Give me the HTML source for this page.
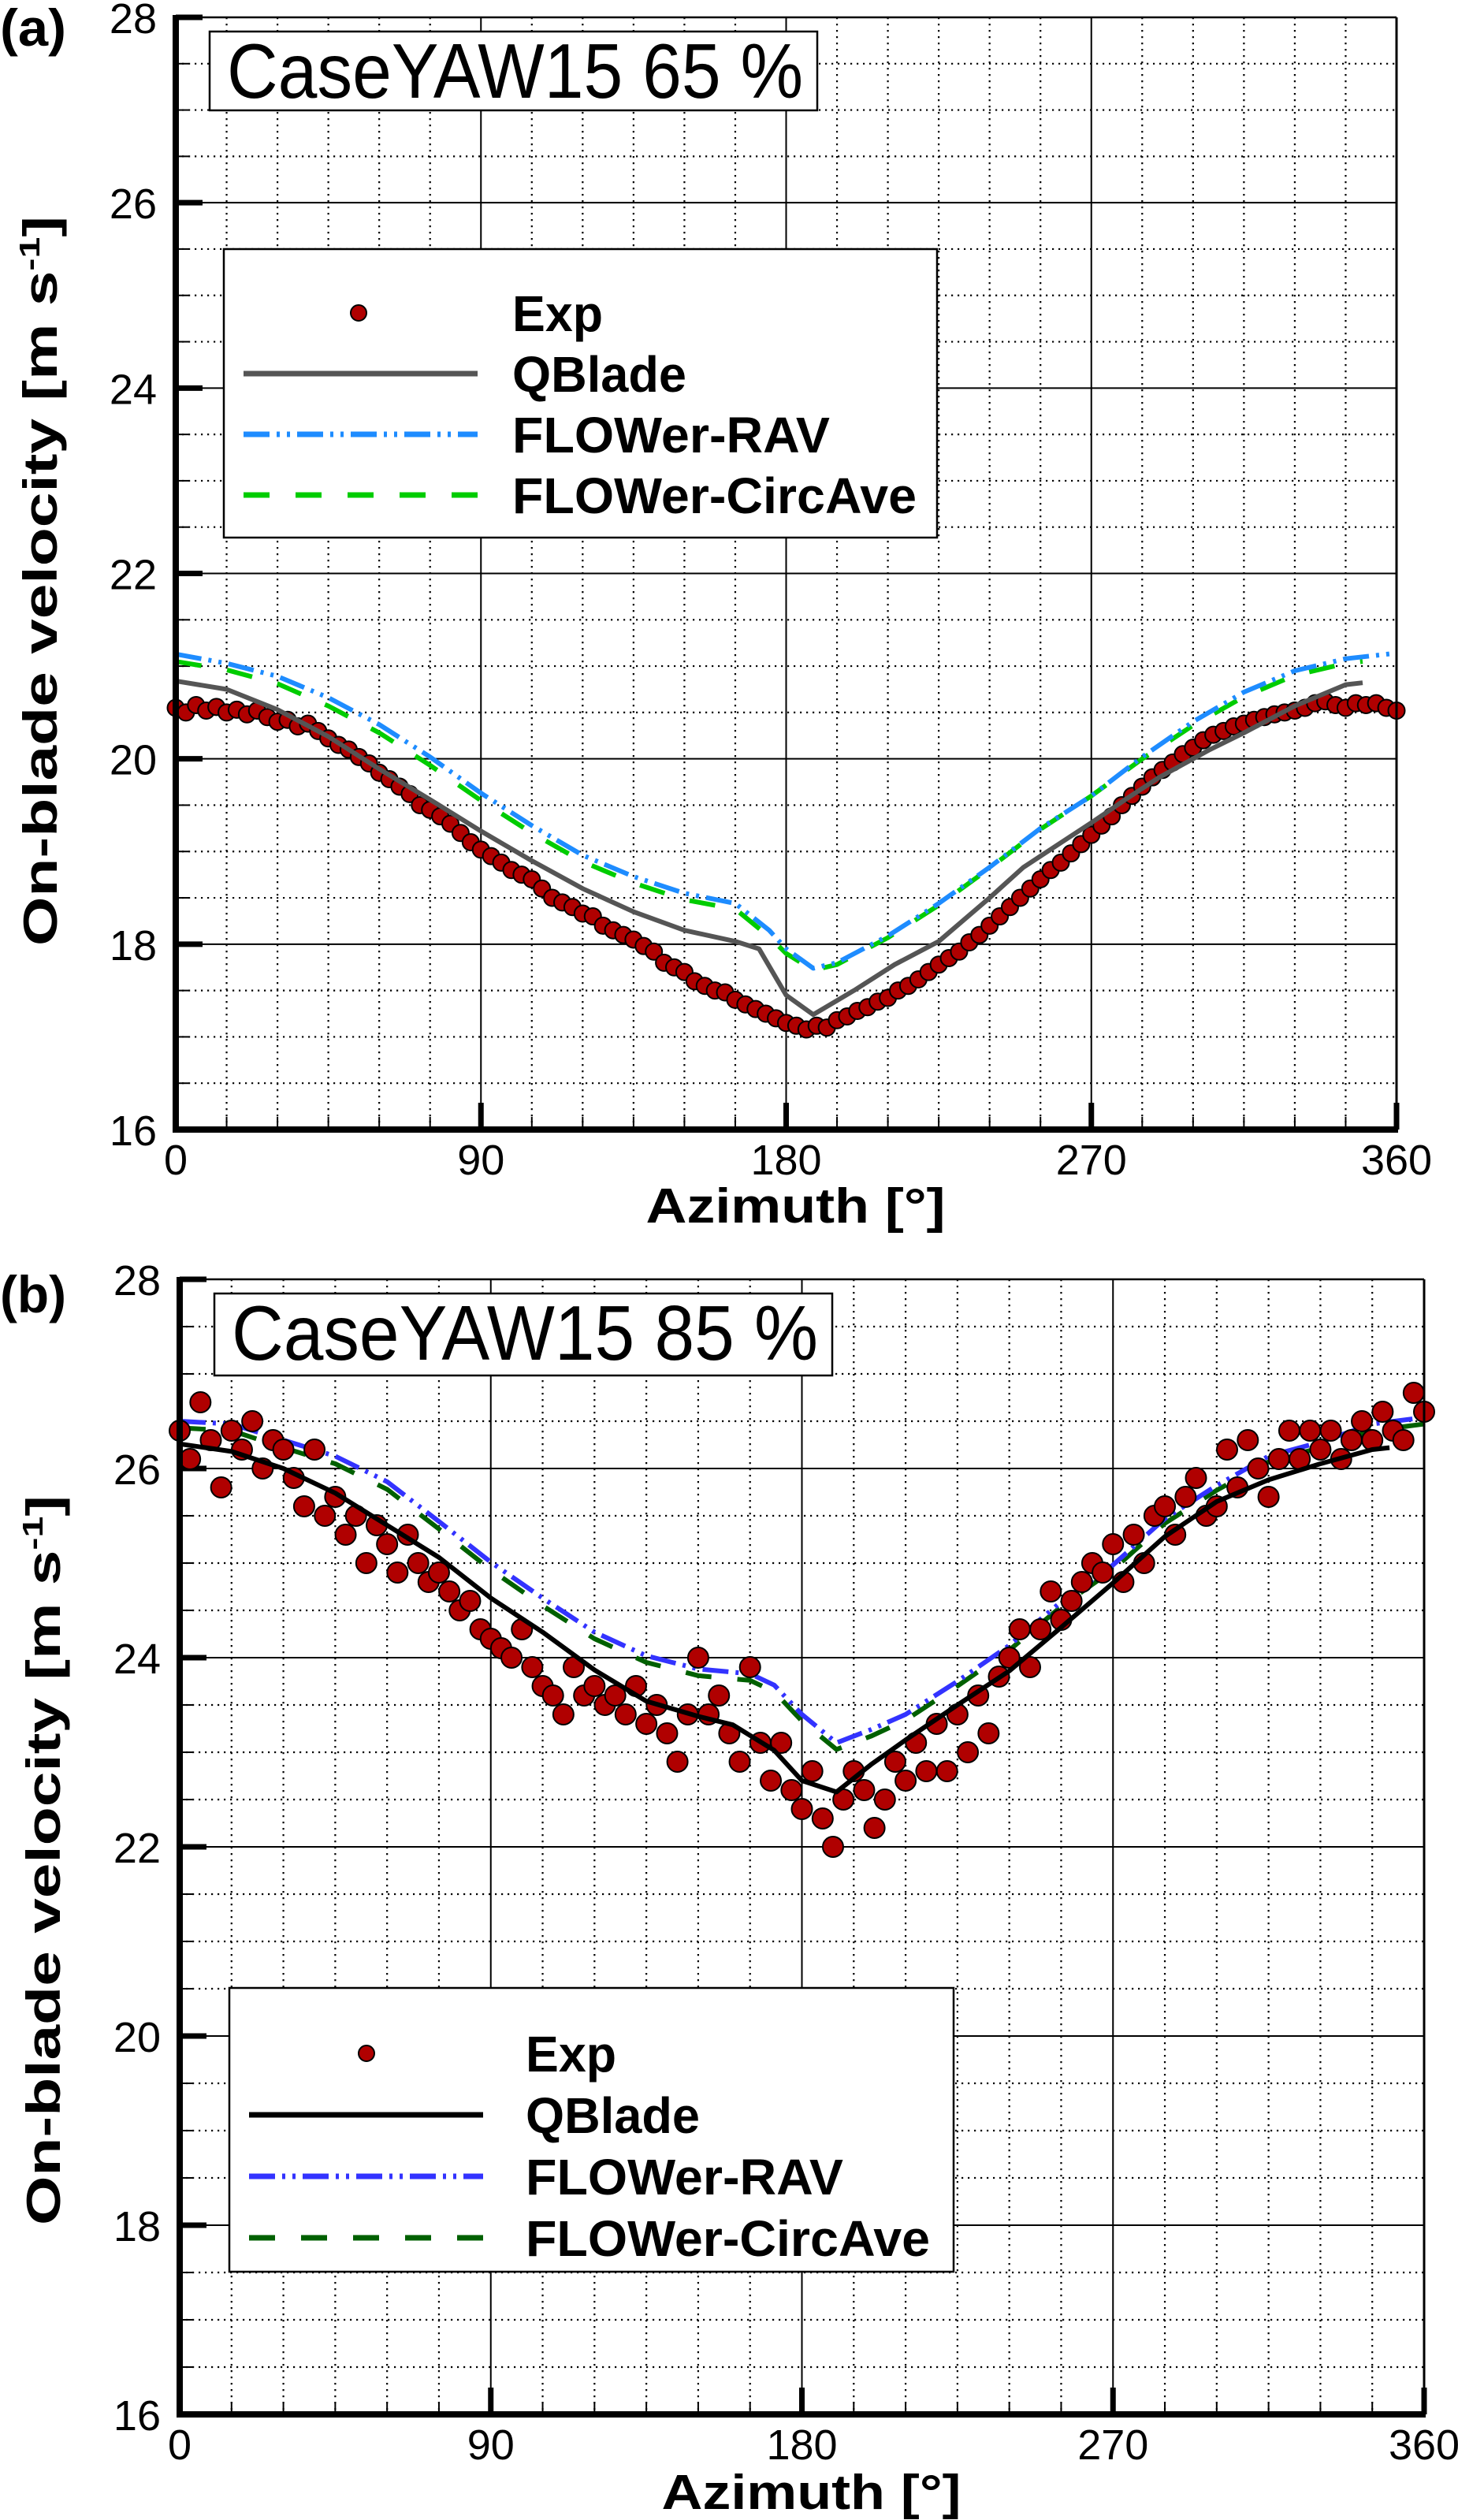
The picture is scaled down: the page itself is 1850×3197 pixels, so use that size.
<!DOCTYPE html>
<html><head><meta charset="utf-8"><style>
html,body{margin:0;padding:0;background:#fff}
svg{display:block}
text{font-family:"Liberation Sans",Arial,sans-serif}
</style></head><body>
<svg id="fig" width="1850" height="3197" viewBox="0 0 1850 3197" xmlns="http://www.w3.org/2000/svg"></svg>
<script>
// ---------- DATA ----------
const xTicks = [0, 90, 180, 270, 360];
const yTicks = [16, 18, 20, 22, 24, 26, 28];

// Panel (a) 65 %
const aExpAz = [];
for (let i = 0; i <= 120; i++) aExpAz.push(i * 3);
const aExpVal = [20.55,20.5,20.58,20.52,20.56,20.5,20.53,20.48,20.52,20.45,20.4,20.42,20.35,20.38,20.3,20.22,20.15,20.1,20.02,19.95,19.85,19.78,19.7,19.62,19.5,19.45,19.38,19.3,19.2,19.1,19.02,18.95,18.88,18.8,18.75,18.7,18.6,18.5,18.45,18.4,18.33,18.3,18.2,18.15,18.1,18.05,17.98,17.92,17.8,17.75,17.7,17.6,17.55,17.5,17.48,17.4,17.35,17.3,17.25,17.2,17.15,17.12,17.08,17.12,17.1,17.18,17.22,17.28,17.32,17.38,17.42,17.5,17.55,17.62,17.7,17.78,17.85,17.92,18.02,18.1,18.2,18.3,18.4,18.5,18.6,18.7,18.8,18.88,18.98,19.08,19.18,19.28,19.38,19.5,19.6,19.7,19.8,19.88,19.96,20.05,20.12,20.2,20.26,20.3,20.35,20.38,20.42,20.45,20.48,20.5,20.52,20.55,20.6,20.62,20.58,20.55,20.6,20.58,20.6,20.55,20.52];
const aQbAz  = [0,15,30,45,60,75,90,105,120,135,150,165,172,180,188,200,212,225,240,250,260,270,280,290,305,315,330,345,350];
const aQbVal = [20.84,20.75,20.53,20.24,19.89,19.56,19.22,18.9,18.6,18.35,18.15,18.03,17.95,17.45,17.24,17.5,17.78,18.03,18.5,18.83,19.07,19.31,19.56,19.8,20.1,20.28,20.57,20.8,20.82];
const aRavAz  = [0,15,30,45,60,75,90,105,120,135,150,165,175,180,188,195,210,225,240,255,270,285,300,315,330,345,360];
const aRavVal = [21.13,21.03,20.89,20.66,20.37,20.02,19.63,19.28,18.96,18.73,18.55,18.44,18.15,17.95,17.74,17.8,18.09,18.44,18.83,19.25,19.6,20.02,20.4,20.72,20.95,21.08,21.14];
const aCircAz  = [0,15,30,45,60,75,90,105,120,135,150,165,175,180,188,195,210,225,240,255,270,285,300,315,330,345,350];
const aCircVal = [21.05,20.96,20.81,20.57,20.28,19.93,19.55,19.2,18.89,18.66,18.48,18.38,18.08,17.9,17.72,17.78,18.07,18.42,18.82,19.24,19.6,20.0,20.36,20.67,20.9,21.03,21.05];

// Panel (b) 85 %
const bExpAz = [];
for (let i = 0; i <= 120; i++) bExpAz.push(i * 3);
const bExpVal = [26.4,26.1,26.7,26.3,25.8,26.4,26.2,26.5,26.0,26.3,26.2,25.9,25.6,26.2,25.5,25.7,25.3,25.5,25.0,25.4,25.2,24.9,25.3,25.0,24.8,24.9,24.7,24.5,24.6,24.3,24.2,24.1,24.0,24.3,23.9,23.7,23.6,23.4,23.9,23.6,23.7,23.5,23.6,23.4,23.7,23.3,23.5,23.2,22.9,23.4,24.0,23.4,23.6,23.2,22.9,23.9,23.1,22.7,23.1,22.6,22.4,22.8,22.3,22.0,22.5,22.8,22.6,22.2,22.5,22.9,22.7,23.1,22.8,23.3,22.8,23.4,23.0,23.6,23.2,23.8,24.0,24.3,23.9,24.3,24.7,24.4,24.6,24.8,25.0,24.9,25.2,24.8,25.3,25.0,25.5,25.6,25.3,25.7,25.9,25.5,25.6,26.2,25.8,26.3,26.0,25.7,26.1,26.4,26.1,26.4,26.2,26.4,26.1,26.3,26.5,26.3,26.6,26.4,26.3,26.8,26.6];
const bQbAz  = [0,15,30,45,60,75,90,105,120,135,150,160,172,180,190,200,210,225,240,255,270,285,300,315,330,345,350];
const bQbVal = [26.26,26.18,26.0,25.74,25.4,25.06,24.63,24.27,23.87,23.54,23.38,23.29,23.02,22.7,22.58,22.87,23.13,23.5,23.86,24.32,24.79,25.28,25.65,25.88,26.05,26.2,26.22];
const bRavAz  = [0,15,30,45,60,75,90,105,120,135,150,165,172,180,190,200,210,225,240,255,270,285,300,315,330,345,360];
const bRavVal = [26.5,26.47,26.3,26.13,25.86,25.44,25.01,24.63,24.27,24.02,23.88,23.83,23.71,23.4,23.1,23.24,23.4,23.75,24.13,24.59,24.98,25.47,25.82,26.13,26.28,26.47,26.54];
const bCircAz  = [0,15,30,45,60,75,90,105,120,135,150,165,172,180,190,200,210,225,240,255,270,285,300,315,330,345,360];
const bCircVal = [26.43,26.4,26.22,26.05,25.78,25.36,24.93,24.55,24.2,23.95,23.81,23.76,23.64,23.33,23.03,23.17,23.34,23.7,24.08,24.54,24.93,25.42,25.77,26.07,26.22,26.4,26.47];

// ---------- DRAW ----------
const NS = "http://www.w3.org/2000/svg";
const svg = document.getElementById('fig');
function mk(tag, attrs, parent) {
  const e = document.createElementNS(NS, tag);
  for (const k in attrs) e.setAttribute(k, attrs[k]);
  (parent || svg).appendChild(e);
  return e;
}

function panel(cfg) {
  const g = mk('g', {});
  
  
  const L = cfg.L, R = cfg.R, T = cfg.T, B = cfg.B;
  const xs = v => L + (v - 0) / 360 * (R - L);
  const ys = v => B - (v - 16) / 12 * (B - T);

  const grid = mk('g', {}, g);
  
  
  for (let a = 15; a < 360; a += 15) {
    if (a % 90 === 0) continue;
    mk('line', {x1: xs(a), x2: xs(a), y1: T, y2: B, stroke: '#000', 'stroke-width': 2.2, 'stroke-dasharray': '2.2,5.8'}, grid);
    mk('line', {x1: xs(a), x2: xs(a), y1: B - 16, y2: B, stroke: '#000', 'stroke-width': 2}, grid);
  }
  for (let v = 16.5; v < 28; v += 0.5) {
    if (v % 2 === 0) continue;
    mk('line', {x1: L, x2: R, y1: ys(v), y2: ys(v), stroke: '#000', 'stroke-width': 2.2, 'stroke-dasharray': '2.2,5.8'}, grid);
    mk('line', {x1: L, x2: L + 16, y1: ys(v), y2: ys(v), stroke: '#000', 'stroke-width': 2}, grid);
  }
  for (const a of xTicks) {
    mk('line', {x1: xs(a), x2: xs(a), y1: T, y2: B, stroke: '#000', 'stroke-width': 2}, grid);
    mk('line', {x1: xs(a), x2: xs(a), y1: B - 34, y2: B, stroke: '#000', 'stroke-width': 7}, grid);
  }
  for (const v of yTicks) {
    mk('line', {x1: L, x2: R, y1: ys(v), y2: ys(v), stroke: '#000', 'stroke-width': 2}, grid);
    mk('line', {x1: L, x2: L + 34, y1: ys(v), y2: ys(v), stroke: '#000', 'stroke-width': 7}, grid);
  }

  function line(az, val, color, w, dash, name) {
    let d = '';
    for (let i = 0; i < az.length; i++) d += (i ? 'L' : 'M') + xs(az[i]).toFixed(1) + ',' + ys(val[i]).toFixed(1);
    const p = mk('path', {d: d, fill: 'none', stroke: color, 'stroke-width': w, 'stroke-dasharray': dash || 'none', 'stroke-linejoin': 'round'}, g);
    
    
  }
  line(cfg.circAz, cfg.circVal, cfg.cCirc, 6, '33,33', 'flower-circave-line');
  line(cfg.ravAz, cfg.ravVal, cfg.cRav, 6, '33,9,4,9,4,9', 'flower-rav-line');
  const eg = mk('g', {}, g);
  
  
  for (let i = 0; i < cfg.expAz.length; i++) {
    const c = mk('circle', {cx: xs(cfg.expAz[i]), cy: ys(cfg.expVal[i]), r: cfg.r, fill: '#b00000', stroke: '#000', 'stroke-width': 2}, eg);
    
    
  }
  line(cfg.qbAz, cfg.qbVal, cfg.cQb, 6, null, 'qblade-line');

  mk('line', {x1: L, x2: R, y1: T, y2: T, stroke: '#000', 'stroke-width': 2.5}, g);
  mk('line', {x1: R, x2: R, y1: T, y2: B, stroke: '#000', 'stroke-width': 3}, g);
  const ax = mk('line', {x1: L, x2: L, y1: T - 3, y2: B + 4, stroke: '#000', 'stroke-width': 8}, g);
  
  
  const bx = mk('line', {x1: L - 4, x2: R + 2, y1: B, y2: B, stroke: '#000', 'stroke-width': 8}, g);
  
  

  for (const a of xTicks) {
    const t = mk('text', {x: xs(a), y: B + 57, 'font-size': 54, 'text-anchor': 'middle'}, g);
    t.textContent = a;
    
    
  }
  for (const v of yTicks) {
    const t = mk('text', {x: L - 24, y: ys(v) + 20, 'font-size': 54, 'text-anchor': 'end'}, g);
    t.textContent = v;
    
    
  }
  const xt = mk('text', {x: (L + R) / 2 + 12, y: cfg.xTitleY, 'font-size': 62, 'font-weight': 'bold', 'text-anchor': 'middle', textLength: 380, lengthAdjust: 'spacingAndGlyphs'}, g);
  xt.textContent = 'Azimuth [°]';
  
  
  const yt = mk('text', {x: 0, y: 0, 'font-size': 60, 'font-weight': 'bold', 'text-anchor': 'middle', textLength: 926, lengthAdjust: 'spacingAndGlyphs', transform: 'translate(' + cfg.yTitleX + ',' + cfg.yTitleC + ') rotate(-90)'}, g);
  yt.innerHTML = 'On-blade velocity [m s<tspan dy="-22" font-size="36">-1</tspan><tspan dy="22">]</tspan>';
  
  

  const pl = mk('text', {x: 0, y: cfg.labelY, 'font-size': 66, 'font-weight': 'bold', textLength: 84, lengthAdjust: 'spacingAndGlyphs'}, g);
  pl.textContent = cfg.label;
  
  

  const cb = mk('g', {}, g);
  
  
  mk('rect', {x: cfg.box[0], y: cfg.box[1], width: cfg.box[2], height: cfg.box[3], fill: '#fff', stroke: '#000', 'stroke-width': 2.5}, cb);
  const ct = mk('text', {x: cfg.box[0] + 22, y: cfg.box[1] + 84, 'font-size': 98, textLength: cfg.box[2] - 40, lengthAdjust: 'spacingAndGlyphs'}, cb);
  ct.textContent = cfg.caseText;

  const lg = mk('g', {}, g);
  
  
  const lx = cfg.leg[0], ly = cfg.leg[1];
  mk('rect', {x: lx, y: ly, width: cfg.leg[2], height: cfg.leg[3], fill: '#fff', stroke: '#000', 'stroke-width': 2.5}, lg);
  const rows = [['Exp', null, null, 115], ['QBlade', cfg.cQb, null, 221], ['FLOWer-RAV', cfg.cRav, '33,9,4,9,4,9', 403], ['FLOWer-CircAve', cfg.cCirc, '33,33', 513]];
  const names = ['legend-entry-exp', 'legend-entry-qblade', 'legend-entry-flower-rav', 'legend-entry-flower-circave'];
  for (let i = 0; i < 4; i++) {
    const ry = ly + cfg.legRow0 + i * cfg.legStep;
    const eg2 = mk('g', {}, lg);
    
    
    if (i === 0) mk('circle', {cx: lx + cfg.legMarkX, cy: ry, r: 10, fill: '#b00000', stroke: '#000', 'stroke-width': 2}, eg2);
    else mk('line', {x1: lx + 25, x2: lx + 322, y1: ry, y2: ry, stroke: rows[i][1], 'stroke-width': 7, 'stroke-dasharray': rows[i][2] || 'none'}, eg2);
    const t = mk('text', {x: lx + cfg.legTextX, y: ry + 23, 'font-size': 64, 'font-weight': 'bold', textLength: rows[i][3], lengthAdjust: 'spacingAndGlyphs'}, eg2);
    t.textContent = rows[i][0];
  }
}

panel({name: 'panel-a-65', L: 223, R: 1772, T: 22, B: 1433,
  expAz: aExpAz, expVal: aExpVal, qbAz: aQbAz, qbVal: aQbVal, ravAz: aRavAz, ravVal: aRavVal, circAz: aCircAz, circVal: aCircVal,
  cQb: '#555555', cRav: '#1e8cff', cCirc: '#00cc00', r: 10.5,
  xTitleY: 1551, yTitleX: 72, yTitleC: 737, label: '(a)', labelY: 58,
  box: [266, 40, 771, 100], caseText: 'CaseYAW15 65 %',
  leg: [284, 316, 905, 366], legRow0: 81, legStep: 77, legMarkX: 171, legTextX: 366});

panel({name: 'panel-b-85', L: 228, R: 1807, T: 1623, B: 3063,
  expAz: bExpAz, expVal: bExpVal, qbAz: bQbAz, qbVal: bQbVal, ravAz: bRavAz, ravVal: bRavVal, circAz: bCircAz, circVal: bCircVal,
  cQb: '#000000', cRav: '#3333ff', cCirc: '#006000', r: 13,
  xTitleY: 3183, yTitleX: 76, yTitleC: 2360, label: '(b)', labelY: 1665,
  box: [272, 1641, 784, 104], caseText: 'CaseYAW15 85 %',
  leg: [291, 2522, 919, 360], legRow0: 83, legStep: 78, legMarkX: 174, legTextX: 376});
</script>
</body></html>
